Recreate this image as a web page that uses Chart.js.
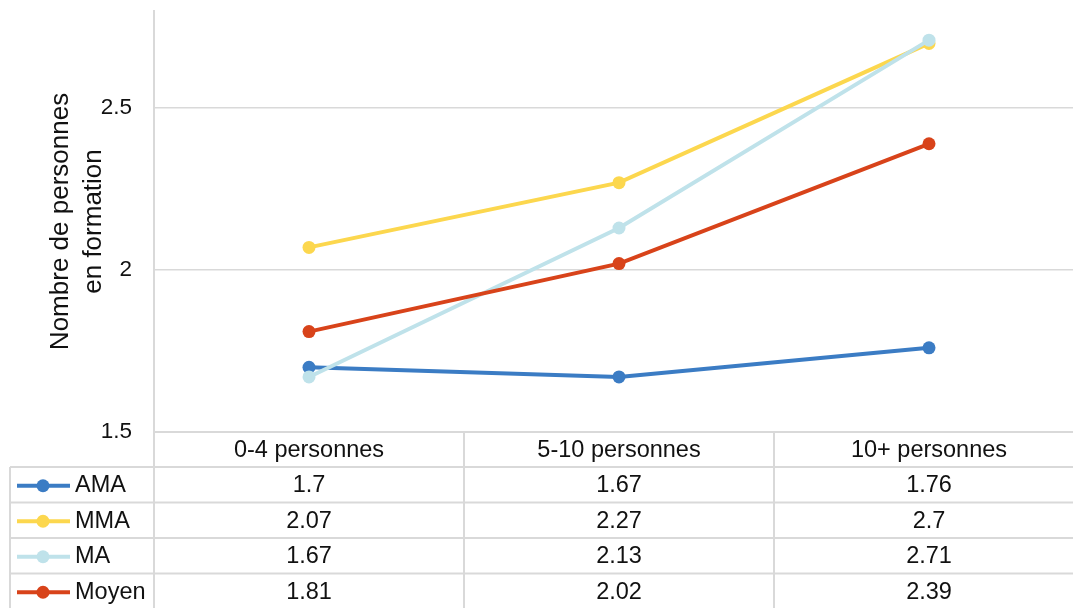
<!DOCTYPE html>
<html>
<head>
<meta charset="utf-8">
<script src="https://cdn.jsdelivr.net/npm/chart.js@4"></script>
<style>
html,body{margin:0;padding:0;background:#fff;overflow:hidden;}
#wrap{width:1084px;height:608px;}
</style>
</head>
<body>
<div id="wrap"><canvas id="c" width="1084" height="608"></canvas></div>
<script>
const categories = ['0-4 personnes', '5-10 personnes', '10+ personnes'];
const seriesNames = ['AMA', 'MMA', 'MA', 'Moyen'];
const AMA = [1.7, 1.67, 1.76];
const MMA = [2.07, 2.27, 2.7];
const MA = [1.67, 2.13, 2.71];
const Moyen = [1.81, 2.02, 2.39];
const yTickValues = [1.5, 2, 2.5];
const yTitle = ['Nombre de personnes', 'en formation'];

const colors = ['#3b7cc4', '#fcd74e', '#bfe2ea', '#d8431a'];
const seriesValues = [AMA, MMA, MA, Moyen];
const FONT = '"Liberation Sans", Arial, sans-serif';
const GRID = '#d9d9d9';
const TEXT = '#111111';

const tablePlugin = {
  id: 'dataTable',
  afterDraw(chart) {
    const ctx = chart.ctx;
    const xs = chart.scales.x;
    const area = chart.chartArea;
    const step = xs.getPixelForValue(1) - xs.getPixelForValue(0);
    const colLeft = xs.getPixelForValue(0) - step / 2;
    const colRight = xs.getPixelForValue(categories.length - 1) + step / 2;
    const headerH = 35;
    const rowH = 35.5;
    const tableLeft = 10;
    const top = area.bottom;
    const headerBottom = top + headerH;
    const nRows = seriesNames.length;
    const bottom = headerBottom + nRows * rowH;
    ctx.save();
    ctx.strokeStyle = GRID;
    ctx.lineWidth = 2;
    ctx.beginPath();
    ctx.moveTo(colLeft, top); ctx.lineTo(colRight, top);
    for (let r = 0; r <= nRows; r++) {
      const y = headerBottom + r * rowH;
      ctx.moveTo(tableLeft, y); ctx.lineTo(colRight, y);
    }
    ctx.moveTo(tableLeft, headerBottom); ctx.lineTo(tableLeft, bottom);
    for (let c = 0; c <= categories.length; c++) {
      const x = colLeft + c * step;
      ctx.moveTo(x, top); ctx.lineTo(x, bottom);
    }
    ctx.stroke();

    ctx.fillStyle = TEXT;
    ctx.font = '23.5px ' + FONT;
    ctx.textAlign = 'center';
    ctx.textBaseline = 'middle';
    categories.forEach((cat, i) => {
      ctx.fillText(cat, xs.getPixelForValue(i), top + headerH / 2 + 1);
    });
    seriesNames.forEach((name, r) => {
      const yc = headerBottom + r * rowH + rowH / 2 + 1;
      ctx.strokeStyle = colors[r];
      ctx.lineWidth = 4;
      ctx.beginPath();
      ctx.moveTo(17, yc); ctx.lineTo(70, yc);
      ctx.stroke();
      ctx.fillStyle = colors[r];
      ctx.beginPath();
      ctx.arc(43, yc, 6.5, 0, Math.PI * 2);
      ctx.fill();
      ctx.fillStyle = TEXT;
      ctx.textAlign = 'left';
      ctx.fillText(name, 75, yc);
      ctx.textAlign = 'center';
      seriesValues[r].forEach((v, i) => {
        ctx.fillText(String(v), xs.getPixelForValue(i), yc);
      });
    });
    ctx.restore();
  }
};

new Chart(document.getElementById('c'), {
  type: 'line',
  data: {
    labels: categories,
    datasets: seriesNames.map((name, i) => ({
      label: name,
      data: seriesValues[i],
      borderColor: colors[i],
      backgroundColor: colors[i],
      pointBackgroundColor: colors[i],
      pointBorderColor: colors[i],
      borderWidth: 4,
      pointRadius: 6.5,
      pointBorderWidth: 0,
      tension: 0,
      clip: false,
      order: seriesNames.length - i
    }))
  },
  options: {
    responsive: false,
    animation: false,
    devicePixelRatio: 1,
    layout: { autoPadding: false, padding: { top: 11, bottom: 176, left: 0, right: 0 } },
    plugins: { legend: { display: false }, tooltip: { enabled: false } },
    scales: {
      x: {
        type: 'category',
        display: false,
        offset: true
      },
      y: {
        min: 1.5,
        max: 2.8,
        afterFit(scale) {
          scale.width = 154;
          scale.paddingTop = 0;
          scale.paddingBottom = 0;
        },
        afterBuildTicks(scale) {
          scale.ticks = yTickValues.map(v => ({ value: v }));
        },
        ticks: {
          padding: 22,
          color: TEXT,
          font: { family: FONT, size: 22.5 },
          callback: v => String(v)
        },
        grid: {
          color: GRID,
          lineWidth: 1.5,
          drawTicks: false
        },
        border: { display: true, color: GRID, width: 2 },
        title: {
          display: true,
          text: yTitle,
          color: TEXT,
          font: { family: FONT, size: 26, lineHeight: 1.27 },
          padding: { top: 44, bottom: 0 }
        }
      }
    }
  },
  plugins: [tablePlugin]
});
</script>
</body>
</html>
